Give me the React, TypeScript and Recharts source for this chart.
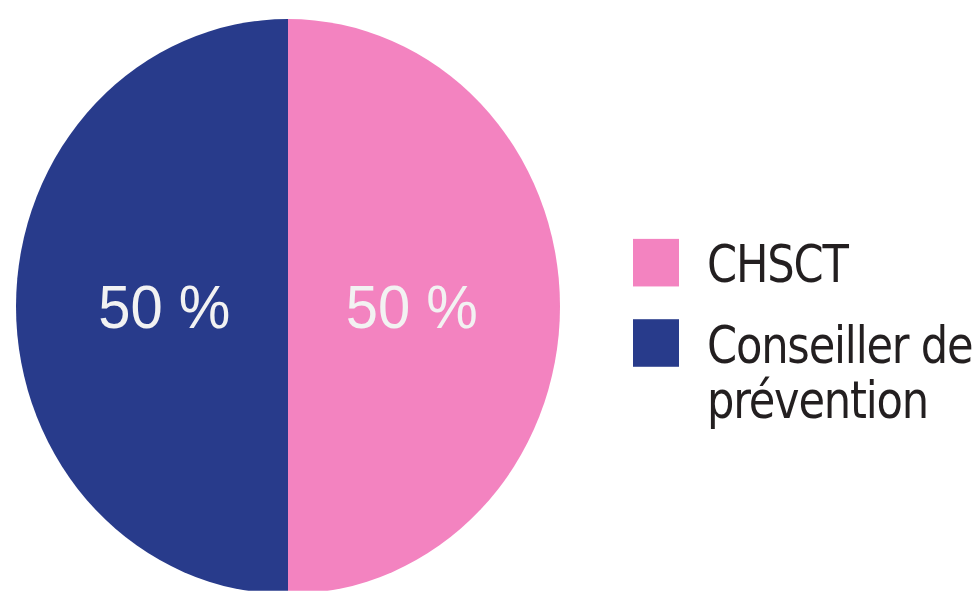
import { PieChart, Pie, Cell, Legend } from 'recharts';

const categories = ['CHSCT', 'Conseiller de prévention'];
const legendLines = [['CHSCT'], ['Conseiller de', 'prévention']];
const shares = [50, 50];
const colors = ['#F383C0', '#283B8B'];

const data = categories.map((name, i) => ({ name, value: shares[i], color: colors[i] }));

// the reference is slightly stretched vertically
const STRETCH = 1.057;
const RAD = Math.PI / 180;

const renderLabel = ({ cx, cy, midAngle, outerRadius, value }: any) => {
    const r = outerRadius * 0.455;
    const x = cx + r * Math.cos(-midAngle * RAD);
    const y = cy + r * Math.sin(-midAngle * RAD);
    return (
        <text
            x={x}
            y={y}
            fill="#F2F2F2"
            textAnchor="middle"
            dominantBaseline="central"
            fontFamily="'Liberation Sans', Arial, sans-serif"
            fontSize={58}
        >
            {`${value} %`}
        </text>
    );
};

const renderLegend = () => (
    <div style={{ position: 'relative' }}>
        {data.map((entry, i) => (
            <div
                key={entry.name}
                style={{ position: 'absolute', left: 0, top: i * 76, display: 'flex', alignItems: 'flex-start' }}
            >
                <div style={{ width: 46, height: 45, background: entry.color, flexShrink: 0 }} />
                <div
                    style={{
                        marginLeft: 28,
                        marginTop: -2,
                        fontFamily: "'DejaVu Sans Condensed', 'DejaVu Sans', sans-serif",
                        fontStretch: 'condensed',
                        fontSize: 48,
                        letterSpacing: -1.2,
                        lineHeight: '52px',
                        color: '#231F20',
                        whiteSpace: 'nowrap',
                    }}
                >
                    {legendLines[i].map((line) => (
                        <div key={line}>{line}</div>
                    ))}
                </div>
            </div>
        ))}
    </div>
);

export default function App() {
    return (
        <div
            style={{
                position: 'absolute',
                left: 0,
                top: 0,
                width: 978,
                height: 559,
                transform: `scale(1, ${STRETCH})`,
                transformOrigin: '0 0',
            }}
        >
            <PieChart width={978} height={559} margin={{ top: 0, right: 0, bottom: 0, left: 0 }}>
                <Pie
                    data={data}
                    dataKey="value"
                    nameKey="name"
                    cx={288}
                    cy={290}
                    outerRadius={272}
                    startAngle={90}
                    endAngle={-270}
                    stroke="none"
                    labelLine={false}
                    label={renderLabel}
                    isAnimationActive={false}
                >
                    {data.map((entry) => (
                        <Cell key={entry.name} fill={entry.color} />
                    ))}
                </Pie>
                <Legend
                    content={renderLegend}
                    layout="vertical"
                    wrapperStyle={{ position: 'absolute', left: 633, top: 226, width: 345, height: 200 }}
                />
            </PieChart>
        </div>
    );
}
